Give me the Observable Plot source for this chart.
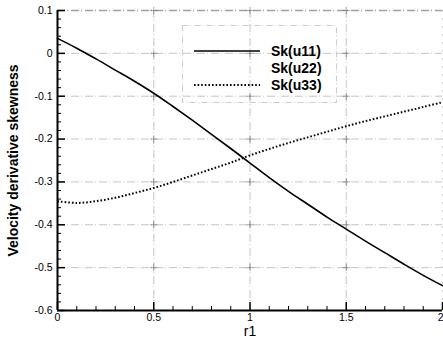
<!DOCTYPE html>
<html>
<head>
<meta charset="utf-8">
<script src="https://cdn.jsdelivr.net/npm/d3@7"></script>
<script src="https://cdn.jsdelivr.net/npm/@observablehq/plot@0.6"></script>
<style>
  html, body { margin: 0; padding: 0; background: #fff; }
  #wrap { position: relative; width: 443px; height: 347px; font-family: "Liberation Sans", Arial, sans-serif; }
  #legend { position: absolute; left: 0; top: 0; pointer-events: none; }
</style>
</head>
<body>
<div id="wrap"></div>
<script>
// ---- data ----
const r    = [0, 0.1, 0.2, 0.3, 0.4, 0.5, 0.6, 0.7, 0.8, 0.9, 1.0, 1.1, 1.2, 1.3, 1.4, 1.5, 1.6, 1.7, 1.8, 1.9, 2.0];
const sk11 = [0.035, 0.012, -0.013, -0.039, -0.065, -0.093, -0.124, -0.156, -0.189, -0.222, -0.256, -0.29, -0.322, -0.352, -0.382, -0.41, -0.438, -0.465, -0.492, -0.518, -0.542];
const sk33 = [-0.345, -0.349, -0.345, -0.337, -0.326, -0.314, -0.300, -0.285, -0.270, -0.255, -0.238, -0.223, -0.209, -0.196, -0.183, -0.17, -0.158, -0.147, -0.136, -0.125, -0.114];
const seriesNames = ["Sk(u11)", "Sk(u22)", "Sk(u33)"];
const xTicks = [0, 0.5, 1, 1.5, 2];
const yTicks = [0.1, 0, -0.1, -0.2, -0.3, -0.4, -0.5, -0.6];
const xMinor = [0.1, 0.2, 0.3, 0.4, 0.6, 0.7, 0.8, 0.9, 1.1, 1.2, 1.3, 1.4, 1.6, 1.7, 1.8, 1.9];
const yMinor = d3.range(-0.58, 0.1, 0.02).filter(v => Math.abs(Math.round(v * 10) - v * 10) > 0.01);
const xLabel = "r1";
const yLabel = "Velocity derivative skewness";

const W = 443, H = 347, mL = 57, mR = 1, mT = 10, mB = 37;
const pw = W - mL - mR, ph = H - mT - mB;

const d11 = r.map((x, i) => ({x, y: sk11[i]}));
const d33 = r.map((x, i) => ({x, y: sk33[i]}));
const fmt = d => String(+(+d).toFixed(1));
const gridColor = "#8a8a8a";
const dashDot = "8,2,1,3";
const dotDash = "1.6,2";
const crosses = [];
for (const x of [0.5, 1, 1.5]) for (const y of [0.1, 0, -0.1, -0.2, -0.3, -0.4, -0.5]) crosses.push({x, y});

const chart = Plot.plot({
  width: W, height: H,
  marginLeft: mL, marginRight: mR, marginTop: mT, marginBottom: mB,
  x: {domain: [0, 2], label: null},
  y: {domain: [-0.6, 0.1], label: null},
  style: {fontFamily: "'Liberation Sans', Arial, sans-serif", background: "#fff", color: "#000", overflow: "visible"},
  marks: [
    Plot.gridX([0.5, 1, 1.5], {stroke: gridColor, strokeOpacity: 0.5, strokeDasharray: dashDot}),
    Plot.gridY([0, -0.1, -0.2, -0.3, -0.4, -0.5], {stroke: gridColor, strokeOpacity: 0.5, strokeDasharray: dashDot}),
    Plot.ruleY([yTicks[0]], {stroke: gridColor, strokeOpacity: 0.8, strokeWidth: 1.5, strokeDasharray: dashDot}),
    Plot.ruleX([xTicks[xTicks.length - 1]], {stroke: gridColor, strokeOpacity: 0.4, strokeDasharray: "2,6"}),
    Plot.dot(crosses, {x: "x", y: "y", symbol: "plus", r: 2.5, stroke: "#555", strokeOpacity: 0.5, strokeWidth: 1}),
    // curves
    Plot.line(d11, {x: "x", y: "y", curve: "catmull-rom", stroke: "#000", strokeWidth: 1.6}),
    Plot.line(d33, {x: "x", y: "y", curve: "catmull-rom", stroke: "#000", strokeWidth: 2, strokeDasharray: dotDash, strokeLinecap: "butt"}),
    // axis lines
    Plot.ruleX([xTicks[0]], {stroke: "#000", strokeWidth: 2}),
    Plot.ruleY([yTicks[yTicks.length - 1]], {stroke: "#000", strokeWidth: 2}),
    // inward ticks
    Plot.tickY(yTicks, {y: d => d, insetRight: pw - 8, stroke: "#000", strokeWidth: 1.5}),
    Plot.tickY(yMinor, {y: d => d, insetRight: pw - 4, stroke: "#000", strokeWidth: 1}),
    Plot.tickX(xTicks, {x: d => d, insetTop: ph - 8, stroke: "#000", strokeWidth: 1.5}),
    Plot.tickX(xMinor, {x: d => d, insetTop: ph - 4, stroke: "#000", strokeWidth: 1}),
    // tick labels
    Plot.axisY(yTicks, {tickSize: 0, tickPadding: 5, tickFormat: fmt, fontSize: 10.5, fill: "#000", label: null}),
    Plot.axisX(xTicks.slice(0, -1), {tickSize: 0, tickPadding: 3, tickFormat: fmt, fontSize: 10.5, fill: "#000", label: null}),
    Plot.axisX(xTicks.slice(-1), {tickSize: 0, tickPadding: 3, tickFormat: fmt, fontSize: 10.5, fill: "#000", label: null, textAnchor: "end", dx: 1}),
    // axis titles
    Plot.text([yLabel], {frameAnchor: "left", dx: -44, rotate: -90, textAnchor: "middle", fontWeight: "bold", fontSize: 14, fill: "#000"}),
    Plot.text([xLabel], {frameAnchor: "bottom", dy: 25, fontSize: 14, fill: "#000"})
  ]
});

const wrap = document.getElementById("wrap");
wrap.appendChild(chart);

// legend overlay (inside the plot area, as in the reference)
const ns = "http://www.w3.org/2000/svg";
const lg = document.createElementNS(ns, "svg");
lg.setAttribute("id", "legend");
lg.setAttribute("width", W);
lg.setAttribute("height", H);
const box = document.createElementNS(ns, "rect");
box.setAttribute("x", 182.5); box.setAttribute("y", 25.5);
box.setAttribute("width", 154); box.setAttribute("height", 77);
box.setAttribute("fill", "none"); box.setAttribute("stroke", "#999");
box.setAttribute("stroke-opacity", "0.5");
box.setAttribute("stroke-dasharray", "6,2,1,3");
lg.appendChild(box);
const styles = [{dash: null, w: 1.6}, null, {dash: dotDash, w: 2}];
seriesNames.forEach((name, i) => {
  const y = 51 + i * 17;
  if (styles[i]) {
    const ln = document.createElementNS(ns, "line");
    ln.setAttribute("x1", 194); ln.setAttribute("x2", 260);
    ln.setAttribute("y1", y); ln.setAttribute("y2", y);
    ln.setAttribute("stroke", "#000"); ln.setAttribute("stroke-width", styles[i].w);
    if (styles[i].dash) ln.setAttribute("stroke-dasharray", styles[i].dash);
    lg.appendChild(ln);
  }
  const t = document.createElementNS(ns, "text");
  t.setAttribute("x", 271); t.setAttribute("y", y);
  t.setAttribute("dy", "0.35em");
  t.setAttribute("font-family", "'Liberation Sans', Arial, sans-serif");
  t.setAttribute("font-size", 14); t.setAttribute("font-weight", "bold");
  t.textContent = name;
  lg.appendChild(t);
});
wrap.appendChild(lg);
</script>
</body>
</html>
